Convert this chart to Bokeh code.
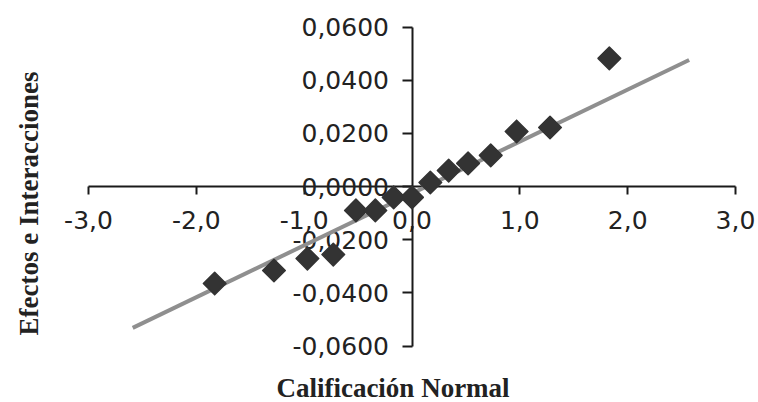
import numpy as np
from bokeh.plotting import figure
from bokeh.models import FixedTicker, CustomJSTickFormatter, Range1d, Label
from bokeh.embed import file_html
from bokeh.resources import INLINE

# ---- data ----
normal_scores = [-1.83, -1.28, -0.97, -0.73, -0.52, -0.34, -0.17, 0.0,
                 0.17, 0.34, 0.52, 0.73, 0.97, 1.28, 1.83]
effects = [-0.0365, -0.0316, -0.0271, -0.0256, -0.0090, -0.0090, -0.0041, -0.0041,
           0.0015, 0.0060, 0.0087, 0.0117, 0.0207, 0.0222, 0.0482]
fit_x = [-2.59, 2.57]
fit_y = [-0.0532, 0.0476]
x_ticks = [-3.0, -2.0, -1.0, 0.0, 1.0, 2.0, 3.0]
x_tick_labels = ["-3,0", "-2,0", "-1,0", "0,0", "1,0", "2,0", "3,0"]
y_ticks = [-0.06, -0.04, -0.02, 0.0, 0.02, 0.04, 0.06]
y_tick_labels = ["-0,0600", "-0,0400", "-0,0200", "0,0000", "0,0200", "0,0400", "0,0600"]
x_title = "Calificación Normal"
y_title = "Efectos e Interacciones"

# ---- layout (canvas pixels) ----
W, H = 758, 402
x_px_per = (735 - 88) / 6.0
x_start = -3 - 88 / x_px_per
x_end = x_start + W / x_px_per
y_px_per = (345.5 - 26.5) / 0.12
y_end = 0.06 + 26.5 / y_px_per
y_start = y_end - H / y_px_per


def px2x(cx):
    return x_start + cx / x_px_per


def px2y(cy):
    return y_end - cy / y_px_per


p = figure(width=W, height=H, x_range=Range1d(x_start, x_end), y_range=Range1d(y_start, y_end),
           output_backend="svg", toolbar_location=None, min_border=0,
           min_border_left=0, min_border_right=0, min_border_top=0, min_border_bottom=0)
p.grid.visible = False
p.outline_line_color = None
p.background_fill_color = "white"
p.border_fill_color = "white"

tick_font = "DejaVu Sans"
for ax in (p.xaxis[0], p.yaxis[0]):
    ax.fixed_location = 0
    ax.axis_line_color = "#1a1a1a"
    ax.axis_line_width = 2
    ax.major_tick_line_color = "#1a1a1a"
    ax.major_tick_line_width = 2
    ax.major_tick_in = 0
    ax.minor_tick_line_color = None
    ax.major_label_text_font = tick_font
    ax.major_label_text_font_size = "25px"
    ax.major_label_text_color = "#222222"
    ax.level = "underlay"

p.xaxis.bounds = (x_ticks[0], x_ticks[-1])
p.xaxis.ticker = FixedTicker(ticks=x_ticks)
p.xaxis.major_label_overrides = dict(zip(x_ticks, x_tick_labels))
p.xaxis.formatter = CustomJSTickFormatter(code="return tick.toFixed(1).replace('.', ',');")
p.xaxis.major_tick_out = 8
p.xaxis.major_label_standoff = 16

p.yaxis.bounds = (y_ticks[0], y_ticks[-1])
p.yaxis.ticker = FixedTicker(ticks=y_ticks)
p.yaxis.major_label_overrides = dict(zip(y_ticks, y_tick_labels))
p.yaxis.formatter = CustomJSTickFormatter(code="return tick.toFixed(4).replace('.', ',');")
p.yaxis.major_tick_out = 10
p.yaxis.major_label_standoff = 13
p.yaxis.major_label_orientation = "horizontal"

p.line(fit_x, fit_y, line_color="#8f8f8f", line_width=4)
p.scatter(normal_scores, effects, marker="square", angle=np.pi / 4, size=16,
          fill_color="#333333", line_color="#333333", line_width=1.5, line_join="round")

title_font = "Liberation Serif"
p.add_layout(Label(x=px2x(392.5), y=px2y(387.5), text=x_title, text_font=title_font,
                   text_font_style="bold", text_font_size="27px", text_color="#222222",
                   text_align="center", text_baseline="alphabetic"))
p.add_layout(Label(x=px2x(28.5), y=px2y(203), text=y_title, text_font=title_font,
                   text_font_style="bold", text_font_size="27px", text_color="#222222",
                   text_align="center", text_baseline="alphabetic", angle=np.pi / 2))

open("out.html", "w").write(file_html(p, INLINE))
